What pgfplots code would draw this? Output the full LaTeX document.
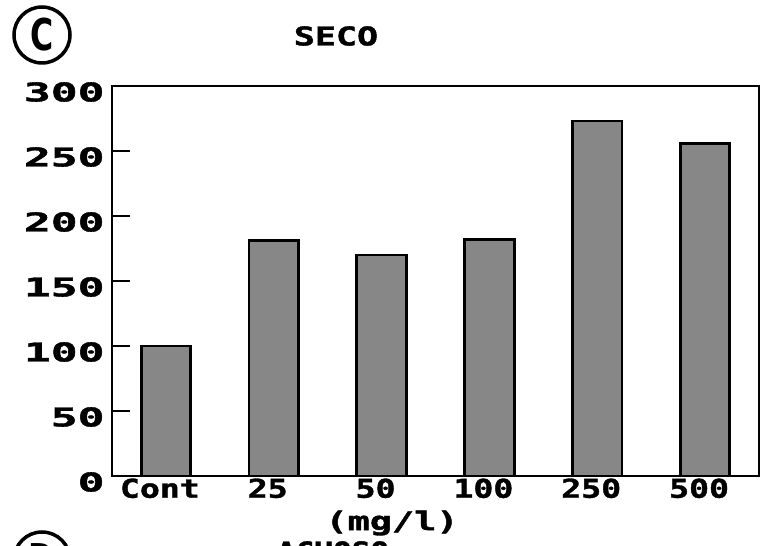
\documentclass[border=0pt]{standalone}
\usepackage{graphicx}
\usepackage{fontspec}
\setmainfont{DejaVu Sans Mono}[BoldFeatures={FakeBold=1.3}]
\newfontfamily\csans{DejaVu Sans}
\usepackage{pgfplots}
\pgfplotsset{compat=1.18}
\newcommand\pix{\fontsize{26}{28}\selectfont\bfseries}
\newcommand\W[2][1.28]{\scalebox{#1}[1]{#2}}
\newcommand\Y[1]{\scalebox{1.72}[1]{#1}}
\begin{document}
\begin{tikzpicture}
\path[use as bounding box] (0bp,0bp) rectangle (765bp,546bp);
\begin{axis}[
  at={(112bp,70bp)}, anchor=south west,
  scale only axis, width=647bp, height=390bp,
  xmin=-0.5, xmax=5.5, ymin=0, ymax=300,
  axis line style={line width=2.8bp},
  xtick={0,1,2,3,4,5},
  xticklabels={\W{Cont},\W{25},\W{50},\W{100},\W{250},\W{500}},
  xtick style={draw=none},
  xticklabel style={font=\pix, anchor=north, xshift=-6bp, yshift=1bp},
  ytick={0,50,100,150,200,250,300},
  yticklabels={\Y{0},\Y{50},\Y{100},\Y{150},\Y{200},\Y{250},\Y{300}},
  ytick pos=left, tick align=inside,
  major tick length=18bp,
  ytick style={line width=2.8bp, black},
  yticklabel style={font=\pix, anchor=east, xshift=-4bp, yshift=-6bp},
  clip=false,
]
\addplot[ybar, bar width=0.46, fill=black!47, draw=black, line width=2.8bp]
  coordinates {(0,100) (1,181) (2,170) (3,182) (4,273) (5,256)};
\end{axis}
\node[circle, draw, line width=3.5bp, minimum size=56bp, inner sep=0pt] at (42bp,511bp)
  {\csans\fontsize{44}{46}\selectfont\bfseries\scalebox{0.72}[1]{C}};
\node at (336bp,510bp) {\pix\W[1.35]{SECO}};
\node at (392bp,23bp) {\pix\W[1.42]{(mg/l)}};
\node[circle, draw, line width=3.5bp, minimum size=56bp, inner sep=0pt] at (42bp,-14bp)
  {\csans\fontsize{44}{46}\selectfont\bfseries\scalebox{0.72}[1]{D}};
\node[anchor=north, inner sep=0pt] at (333bp,5bp) {\pix\W[1.2]{ACUOSO}};
\end{tikzpicture}
\end{document}
